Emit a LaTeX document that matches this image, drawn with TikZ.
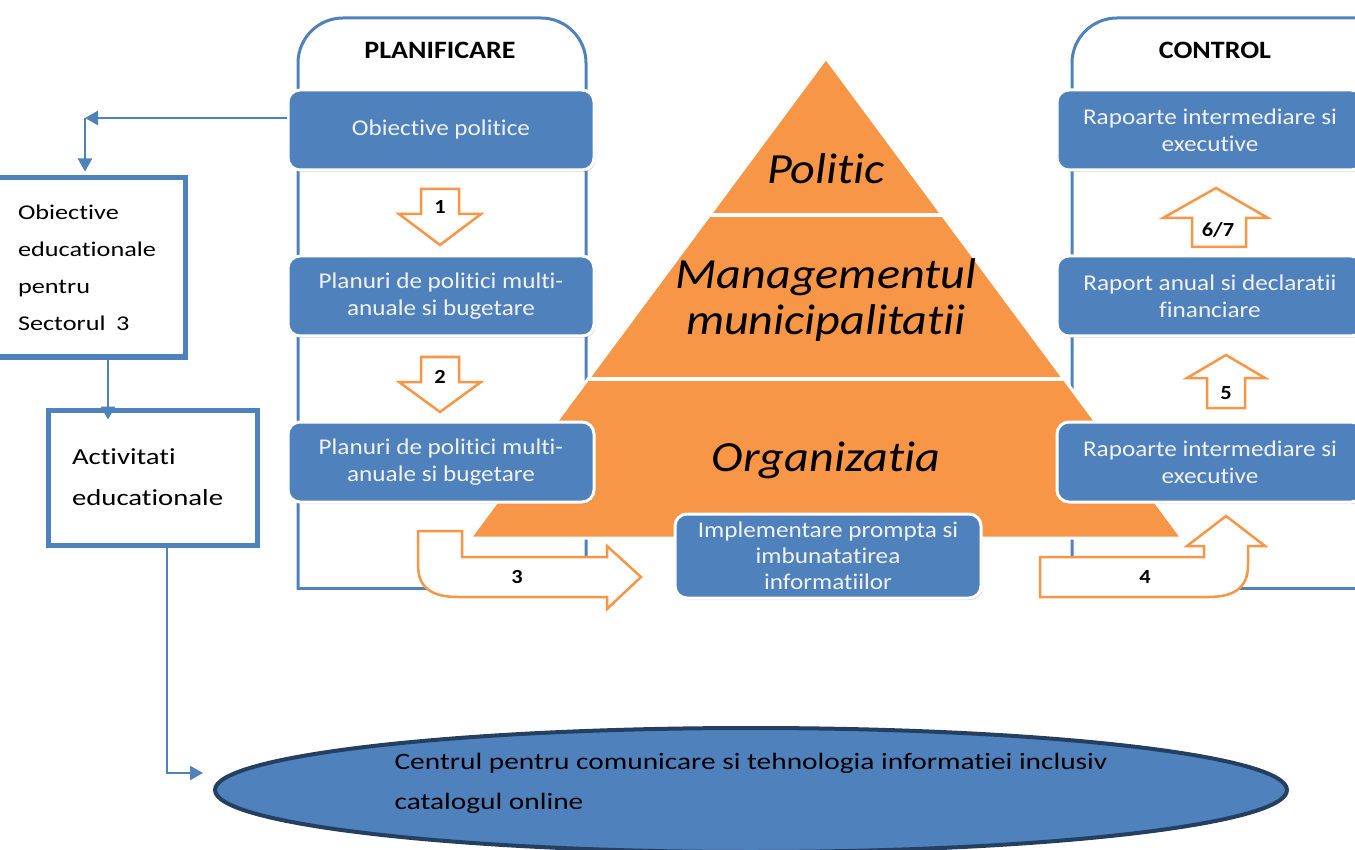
\documentclass[tikz,border=0pt]{standalone}
\usepackage{fontspec}
\setmainfont{Carlito}[FakeStretch=1.12, Ligatures=NoCommon]
\newfontfamily\bodyfont{Carlito}[FakeStretch=1.25, Ligatures=NoCommon]
\usetikzlibrary{positioning, calc, arrows.meta, shadows, shapes.geometric}
\definecolor{BoxBlue}{HTML}{4F81BD}
\definecolor{PyrOrange}{HTML}{F79646}
\definecolor{NavyEdge}{HTML}{243F60}
\definecolor{SoftWhite}{HTML}{F2F2F2}

\tikzset{
  panel/.style={draw=BoxBlue, line width=3pt, line cap=rect},
  bluebox/.style={rectangle, rounded corners=12pt, fill=BoxBlue, draw=white,
                  line width=3pt, minimum width=306pt, minimum height=80pt,
                  text=SoftWhite, align=center, font=\fontsize{22.5}{27}\selectfont,
                  drop shadow={shadow xshift=1.5pt, shadow yshift=-2pt, opacity=0.3}},
  heading/.style={font=\bfseries\fontsize{25}{30}\selectfont},
  tierlabel/.style={font=\itshape\fontsize{43}{46}\selectfont, align=center},
  pyramid/.style={fill=PyrOrange, draw=white, line width=3pt},
  tiergap/.style={draw=white, line width=4pt},
  blockarrow/.style={draw=PyrOrange, line width=2.5pt, fill=white, line join=miter},
  steplabel/.style={font=\bfseries\fontsize{20}{24}\selectfont},
  edubox/.style={draw=BoxBlue, line width=5pt, align=left},
  linkline/.style={draw=BoxBlue, line width=2.5pt, -{Triangle[length=13pt, width=14pt]}}
}

\begin{document}
\begin{tikzpicture}[x=1pt, y=-1pt]
\useasboundingbox (0,0) rectangle (1355,850);
\clip (0,0) rectangle (1355,850);

% side panels
\draw[panel, rounded corners=45pt] (298,588) -- (298,18) -- (586,18) -- (586,588);
\draw[panel] (298,588) -- (586,588);
\draw[panel, rounded corners=45pt] (1072,588) -- (1072,18) -- (1420,18) -- (1420,588);
\draw[panel] (1072,588) -- (1420,588);
\node[heading] (plan) at (440,50) {PLANIFICARE};
\node[heading] (ctrl) at (1215,50) {CONTROL};

% pyramid
\coordinate (apex) at (826,58);
\coordinate (baseL) at (470,538);
\coordinate (baseR) at (1182,538);
\filldraw[pyramid] (apex) -- (baseL) -- (baseR) -- cycle;
\draw[tiergap] ($(apex)!0.327!(baseL)$) -- ($(apex)!0.327!(baseR)$);
\draw[tiergap] ($(apex)!0.669!(baseL)$) -- ($(apex)!0.669!(baseR)$);
\node[tierlabel] (politic) at (826,169) {Politic};
\node[tierlabel] (mgmt) at (826,300) {Managementul\\municipalitatii};
\node[tierlabel] (org) at (826,460) {Organizatia};

% planning column
\node[bluebox] (polobj) at (441,130) {Obiective politice};
\node[bluebox, below=83pt of polobj] (plan1) {Planuri de politici multi-\\anuale si bugetare};
\node[bluebox, below=83pt of plan1] (plan2) {Planuri de politici multi-\\anuale si bugetare};

% control column
\node[bluebox] (rap1) at (1210,130) {Rapoarte intermediare si\\executive};
\node[bluebox, below=83pt of rap1] (rap2) {Raport anual si declaratii\\financiare};
\node[bluebox, below=83pt of rap2] (rap3) {Rapoarte intermediare si\\executive};

\node[bluebox, minimum height=84pt, font=\fontsize{22.5}{26}\selectfont] (impl) at (828,556)
  {Implementare prompta si\\imbunatatirea\\informatiilor};

% numbered arrows
\draw[blockarrow] (421,189) -- (459,189) -- (459,214) -- (481,214) -- (440,245)
  -- (399,214) -- (421,214) -- cycle;
\node[steplabel] (s1) at (440,207) {1};
\draw[blockarrow] (421,357) -- (459,357) -- (459,382) -- (481,382) -- (440,412)
  -- (399,382) -- (421,382) -- cycle;
\node[steplabel] (s2) at (440,377) {2};
\draw[blockarrow] (418,531) -- (418,565) .. controls (418,588) and (432,597) .. (458,597)
  -- (607,597) -- (607,609) -- (641,577) -- (607,546) -- (607,557) -- (462,557)
  -- (462,531) -- cycle;
\node[steplabel] (s3) at (517,577) {3};
\draw[blockarrow] (1040,557) -- (1204,557) -- (1204,546) -- (1187,546) -- (1226,516)
  -- (1265,546) -- (1248,546) -- (1248,565) .. controls (1248,588) and (1234,597) .. (1208,597)
  -- (1040,597) -- cycle;
\node[steplabel] (s4) at (1145,577) {4};
\draw[blockarrow] (1207,408) -- (1207,378) -- (1187,378) -- (1226,355) -- (1265,378)
  -- (1245,378) -- (1245,408) -- cycle;
\node[steplabel] (s5) at (1226,393) {5};
\draw[blockarrow] (1192,247) -- (1192,218) -- (1163,218) -- (1216,188) -- (1268,218)
  -- (1246,218) -- (1246,247) -- cycle;
\node[steplabel] (s67) at (1218,230) {6/7};

% educational side
\node[edubox, minimum width=190pt, minimum height=179pt, text width=144pt,
      font=\bodyfont\fontsize{21}{37}\selectfont] (obj) at (90,267.5)
  {Obiective\\educationale\\pentru\\Sectorul\enspace 3};
\node[edubox, minimum width=209pt, minimum height=135pt, text width=161pt,
      font=\bodyfont\fontsize{23}{41}\selectfont] (act) at (152.5,477.5)
  {Activitati\\educationale};
\node[ellipse, fill=BoxBlue, draw=NavyEdge, line width=4pt, minimum width=1072pt,
      minimum height=124pt] (centru) at (751,790) {};
\node[align=left, font=\bodyfont\fontsize{23.5}{40}\selectfont] (centrutext)
  at ([yshift=7pt]centru.center)
  {Centrul pentru comunicare si tehnologia informatiei inclusiv\\catalogul online};

\coordinate (turn) at (85,118);
\draw[linkline] (polobj.west |- turn) -- (turn);
\draw[linkline] (turn) -- ([yshift=4pt]turn |- obj.north);
\draw[linkline] ([xshift=18pt]obj.south) -- ([xshift=18pt, yshift=-12pt]obj.south |- act.north);
\draw[linkline] ([xshift=14.5pt]act.south) |- ([xshift=-10pt, yshift=17pt]centru.west);
\end{tikzpicture}
\end{document}
